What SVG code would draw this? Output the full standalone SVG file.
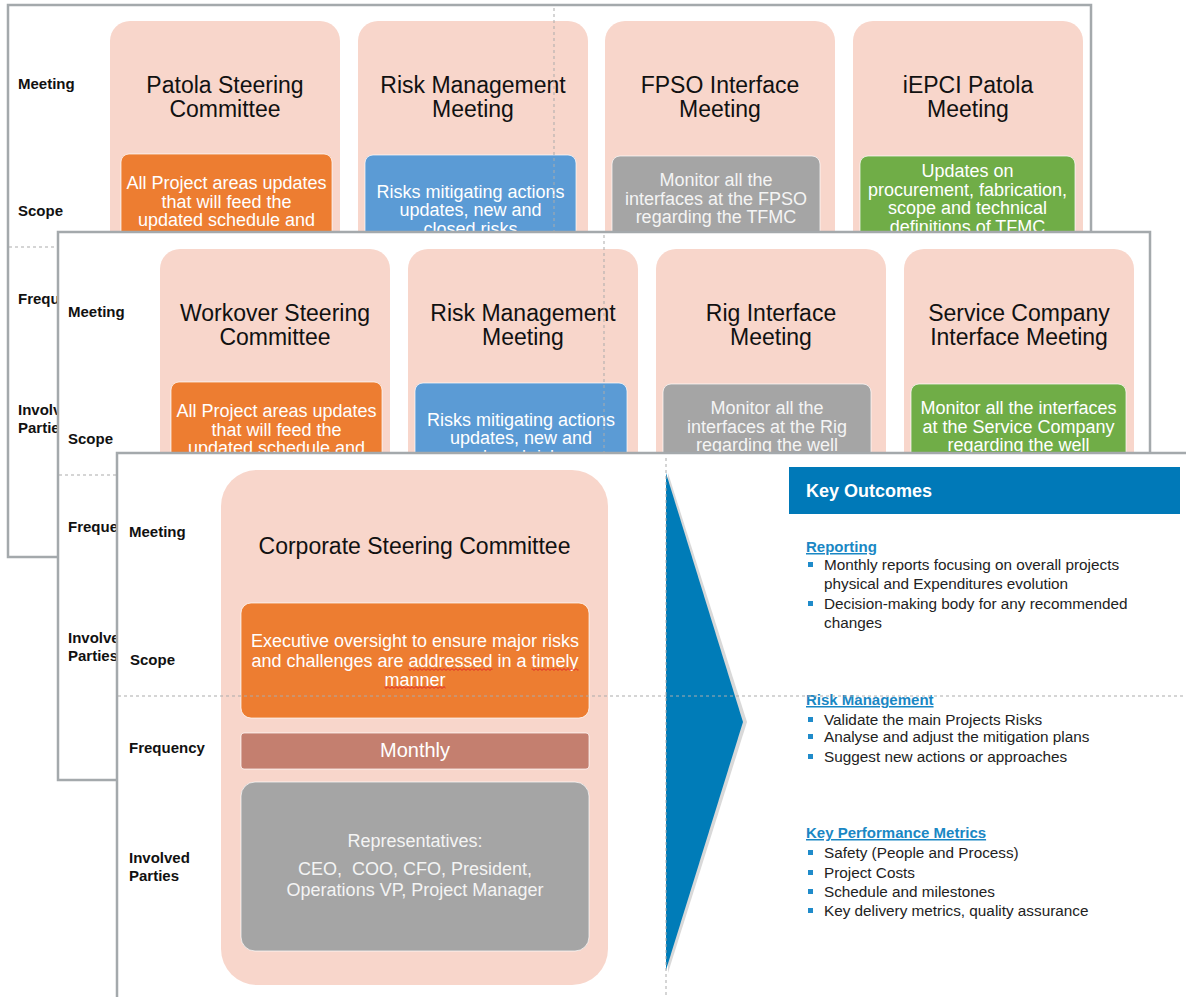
<svg xmlns="http://www.w3.org/2000/svg" width="1186" height="997" viewBox="0 0 1186 997">
<defs>
<style>
text{font-family:"Liberation Sans",Arial,sans-serif}
.panel{fill:#fff;stroke:#A4A9AC;stroke-width:2.5}
.card{fill:#F8D6CB}
.lbl{font-size:15px;font-weight:bold;fill:#111}
.title{font-size:23px;fill:#111;text-anchor:middle}
.sc{font-size:18px;fill:#fff;text-anchor:middle}
.scg{font-size:18px;fill:#F4F4F4;text-anchor:middle}
.box{stroke:#fff;stroke-opacity:.7;stroke-width:1}
.or{fill:#ED7D31}.bl{fill:#5B9BD5}.gr{fill:#A5A5A5}.gn{fill:#70AD47}
.dash{stroke:#ABABAB;stroke-width:1;stroke-dasharray:3 3;fill:none}
.head{font-size:15px;font-weight:bold;fill:#1A87C4;text-decoration:underline}
.body{font-size:15.3px;fill:#222}
.bul{fill:#1F8BCA}
</style>
<pattern id="wavy" patternUnits="userSpaceOnUse" x="0" y="668" width="4" height="3">
<path d="M0,0.6 L2,2.4 L4,0.6" fill="none" stroke="#E02828" stroke-width="1"/>
</pattern>
</defs>

<g id="panel-patola">
<rect class="panel" x="8" y="5" width="1083" height="552"/>
<text class="lbl" x="18" y="89">Meeting</text>
<text class="lbl" x="18" y="216">Scope</text>
<text class="lbl" x="18" y="304">Frequ</text>
<text class="lbl" x="18" y="415">Involv</text>
<text class="lbl" x="18" y="433">Partie</text>
<g id="patola-steering">
<rect class="card" x="110" y="21" width="230" height="510" rx="20"/>
<text class="title" x="225" y="93">Patola Steering</text>
<text class="title" x="225" y="117">Committee</text>
<rect class="box or" x="121" y="154" width="211" height="140" rx="8"/>
<text class="sc" x="226.5" y="189">All Project areas updates</text>
<text class="sc" x="226.5" y="207.5">that will feed the</text>
<text class="sc" x="226.5" y="226">updated schedule and</text>
</g>
<g id="patola-risk">
<rect class="card" x="358" y="21" width="230" height="510" rx="20"/>
<text class="title" x="473" y="93">Risk Management</text>
<text class="title" x="473" y="117">Meeting</text>
<rect class="box bl" x="365" y="155" width="211" height="140" rx="8"/>
<text class="sc" x="470.5" y="197.5">Risks mitigating actions</text>
<text class="sc" x="470.5" y="216">updates, new and</text>
<text class="sc" x="470.5" y="234.5">closed risks</text>
</g>
<g id="patola-fpso">
<rect class="card" x="605" y="21" width="230" height="510" rx="20"/>
<text class="title" x="720" y="93">FPSO Interface</text>
<text class="title" x="720" y="117">Meeting</text>
<rect class="box gr" x="612" y="156" width="208" height="140" rx="8"/>
<text class="scg" x="716" y="186">Monitor all the</text>
<text class="scg" x="716" y="204.5">interfaces at the FPSO</text>
<text class="scg" x="716" y="223">regarding the TFMC</text>
</g>
<g id="patola-iepci">
<rect class="card" x="853" y="21" width="230" height="510" rx="20"/>
<text class="title" x="968" y="93">iEPCI Patola</text>
<text class="title" x="968" y="117">Meeting</text>
<rect class="box gn" x="860" y="156" width="215" height="140" rx="8"/>
<text class="sc" x="967.5" y="177">Updates on</text>
<text class="sc" x="967.5" y="195.5">procurement, fabrication,</text>
<text class="sc" x="967.5" y="214">scope and technical</text>
<text class="sc" x="967.5" y="232.5">definitions of TFMC</text>
</g>
<path class="dash" d="M554,8 V556 M9,247 H1090"/>
</g>

<g id="panel-workover">
<rect class="panel" x="58" y="232" width="1092" height="548"/>
<text class="lbl" x="68" y="317">Meeting</text>
<text class="lbl" x="68" y="444">Scope</text>
<text class="lbl" x="68" y="532">Freque</text>
<text class="lbl" x="68" y="643">Involve</text>
<text class="lbl" x="68" y="661">Parties</text>
<g id="workover-steering">
<rect class="card" x="160" y="249" width="230" height="510" rx="20"/>
<text class="title" x="275" y="321">Workover Steering</text>
<text class="title" x="275" y="345">Committee</text>
<rect class="box or" x="171" y="382" width="211" height="140" rx="8"/>
<text class="sc" x="276.5" y="417">All Project areas updates</text>
<text class="sc" x="276.5" y="435.5">that will feed the</text>
<text class="sc" x="276.5" y="454">updated schedule and</text>
</g>
<g id="workover-risk">
<rect class="card" x="408" y="249" width="230" height="510" rx="20"/>
<text class="title" x="523" y="321">Risk Management</text>
<text class="title" x="523" y="345">Meeting</text>
<rect class="box bl" x="415" y="383" width="212" height="140" rx="8"/>
<text class="sc" x="521" y="425.5">Risks mitigating actions</text>
<text class="sc" x="521" y="444">updates, new and</text>
<text class="sc" x="521" y="462.5">closed risks</text>
</g>
<g id="workover-rig">
<rect class="card" x="656" y="249" width="230" height="510" rx="20"/>
<text class="title" x="771" y="321">Rig Interface</text>
<text class="title" x="771" y="345">Meeting</text>
<rect class="box gr" x="663" y="384" width="208" height="140" rx="8"/>
<text class="scg" x="767" y="414">Monitor all the</text>
<text class="scg" x="767" y="432.5">interfaces at the Rig</text>
<text class="scg" x="767" y="451">regarding the well</text>
</g>
<g id="workover-service">
<rect class="card" x="904" y="249" width="230" height="510" rx="20"/>
<text class="title" x="1019" y="321">Service Company</text>
<text class="title" x="1019" y="345">Interface Meeting</text>
<rect class="box gn" x="911" y="384" width="215" height="140" rx="8"/>
<text class="sc" x="1018.5" y="414">Monitor all the interfaces</text>
<text class="sc" x="1018.5" y="432.5">at the Service Company</text>
<text class="sc" x="1018.5" y="451">regarding the well</text>
</g>
<path class="dash" d="M604,235 V779 M59,475 H1149"/>
</g>

<g id="panel-corporate">
<rect class="panel" x="117" y="453" width="1100" height="600"/>
<text class="lbl" x="129" y="537">Meeting</text>
<text class="lbl" x="130" y="665">Scope</text>
<text class="lbl" x="129" y="753">Frequency</text>
<text class="lbl" x="129" y="863">Involved</text>
<text class="lbl" x="129" y="881">Parties</text>
<g id="corporate-steering">
<rect class="card" x="221" y="470" width="387" height="515" rx="36"/>
<text class="title" x="414.5" y="554">Corporate Steering Committee</text>
<rect class="box or" x="241" y="603" width="348" height="115" rx="10"/>
<text class="sc" x="415" y="647">Executive oversight to ensure major risks</text>
<text class="sc" x="415" y="666.5">and challenges are addressed in a timely</text>
<text class="sc" x="415" y="686">manner</text>
<g id="spellcheck" fill="url(#wavy)">
<rect x="408.5" y="668" width="84" height="3"/>
<rect x="531.5" y="668" width="47" height="3"/>
<rect x="384.5" y="686" width="61" height="3"/>
</g>
<rect class="box" x="241" y="733" width="348" height="36" rx="3" fill="#C47F6F"/>
<text class="sc" x="415" y="757" style="font-size:20px">Monthly</text>
<rect class="box gr" x="241" y="782" width="348" height="169" rx="14"/>
<text class="scg" x="415" y="847">Representatives:</text>
<text class="scg" x="415" y="875">CEO,&#160; COO, CFO, President,</text>
<text class="scg" x="415" y="896">Operations VP, Project Manager</text>
</g>
<g id="connectors">
<polygon points="668,473 747,722 668,973" fill="#D9D9D9"/>
<polygon points="666,473 743,722 666,970" fill="#007CB8"/>
</g>
<g id="key-outcomes">
<rect x="789" y="467" width="391" height="47" fill="#0079B8"/>
<text x="806" y="497" style="font-size:18px;font-weight:bold;fill:#fff">Key Outcomes</text>
<text class="head" x="806" y="552">Reporting</text>
<rect class="bul" x="808" y="562" width="5" height="5"/>
<text class="body" x="824" y="570">Monthly reports focusing on overall projects</text>
<text class="body" x="824" y="589">physical and Expenditures evolution</text>
<rect class="bul" x="808" y="601" width="5" height="5"/>
<text class="body" x="824" y="609">Decision-making body for any recommended</text>
<text class="body" x="824" y="628">changes</text>
<text class="head" x="806" y="705">Risk Management</text>
<rect class="bul" x="808" y="717" width="5" height="5"/>
<text class="body" x="824" y="725">Validate the main Projects Risks</text>
<rect class="bul" x="808" y="734" width="5" height="5"/>
<text class="body" x="824" y="742">Analyse and adjust the mitigation plans</text>
<rect class="bul" x="808" y="754" width="5" height="5"/>
<text class="body" x="824" y="762">Suggest new actions or approaches</text>
<text class="head" x="806" y="838">Key Performance Metrics</text>
<rect class="bul" x="808" y="850" width="5" height="5"/>
<text class="body" x="824" y="858">Safety (People and Process)</text>
<rect class="bul" x="808" y="870" width="5" height="5"/>
<text class="body" x="824" y="878">Project Costs</text>
<rect class="bul" x="808" y="889" width="5" height="5"/>
<text class="body" x="824" y="897">Schedule and milestones</text>
<rect class="bul" x="808" y="908" width="5" height="5"/>
<text class="body" x="824" y="916">Key delivery metrics, quality assurance</text>
</g>
<path class="dash" d="M666,458 V997 M118,696 H1186"/>
</g>
</svg>
